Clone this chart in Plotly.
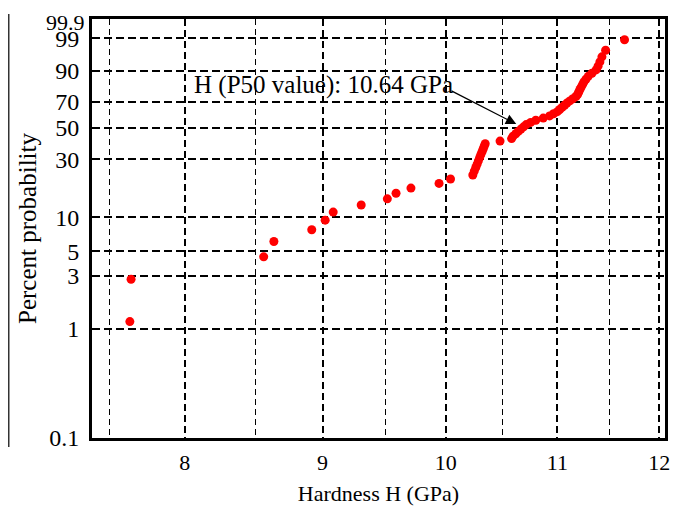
import numpy as np
import plotly.graph_objects as go

# Hardness values (GPa) (sorted)
hardness = [7.633, 7.641, 8.558, 8.633, 8.917, 9.020, 9.082, 9.302, 9.512, 9.583,
            9.706, 9.942, 10.04, 10.233, 10.246, 10.259, 10.271, 10.282, 10.293, 10.303,
            10.314, 10.324, 10.333, 10.342, 10.474, 10.578, 10.591, 10.616, 10.639, 10.663,
            10.687, 10.711, 10.752, 10.799, 10.868, 10.927, 10.964, 11.000, 11.022, 11.045,
            11.068, 11.090, 11.118, 11.147, 11.177, 11.193, 11.203, 11.214, 11.226, 11.239,
            11.252, 11.272, 11.294, 11.330, 11.370, 11.389, 11.407, 11.427, 11.463, 11.650]

# Percent probability of each point
percent = [1.16, 2.81, 4.47, 6.13, 7.78, 9.44, 11.09, 12.75, 14.40, 16.06,
           17.72, 19.37, 21.03, 22.68, 24.34, 25.99, 27.65, 29.30, 30.96, 32.62,
           34.27, 35.93, 37.58, 39.24, 40.89, 42.55, 44.21, 45.86, 47.52, 49.17,
           50.83, 52.48, 54.14, 55.79, 57.45, 59.11, 60.76, 62.42, 64.07, 65.73,
           67.38, 69.04, 70.70, 72.35, 74.01, 75.66, 77.32, 78.97, 80.63, 82.28,
           83.94, 85.60, 87.25, 88.91, 90.56, 92.22, 93.87, 95.53, 97.19, 98.84]

y_ticks = [0.1, 1, 3, 5, 10, 30, 50, 70, 90, 99]
y_tick_labels = ["0.1", "1", "3", "5", "10", "30", "50", "70", "90", "99"]
y_top = 99.9
y_top_label = "99.9"
x_ticks = [8, 9, 10, 11, 12]
x_tick_labels = ["8", "9", "10", "11", "12"]
x_minor = [7.5, 8.5, 9.5, 10.5, 11.5]

annot_text = "H (P50 value): 10.64 GPa"


def weibull(p):
    p = np.asarray(p, dtype=float) / 100.0
    return np.log(-np.log(1.0 - p))


FONT = "Liberation Serif"

fig = go.Figure()
fig.add_trace(go.Scatter(
    x=hardness, y=weibull(percent), mode="markers",
    marker=dict(color="#ff0000", size=9, line=dict(width=0)),
    showlegend=False, hoverinfo="skip"))

# page has an 8px body margin, so the figure is sized to fit the window
W, H = 673, 502
L, R, T, B = 84, 16, 11, 72
PW, PH = W - L - R, H - T - B

fig.update_layout(
    width=W, height=H,
    margin=dict(l=L, r=R, t=T, b=B, pad=0),
    paper_bgcolor="white", plot_bgcolor="white",
    font=dict(family=FONT, color="black", size=21),
    xaxis=dict(
        type="log", range=[np.log10(7.39), np.log10(12.06)],
        tickvals=x_ticks, ticktext=x_tick_labels, ticks="",
        tickfont=dict(size=22, family=FONT),
        showgrid=True, gridcolor="black", gridwidth=2, griddash="7px,4px",
        minor=dict(tickvals=x_minor, showgrid=True, gridcolor="black",
                   gridwidth=1, griddash="6px,4px", ticks=""),
        showline=True, linecolor="black", linewidth=3, mirror=True,
        zeroline=False, ticklabelstandoff=3, automargin=False,
        title=dict(text="Hardness H (GPa)", font=dict(size=22, family=FONT), standoff=12),
    ),
    yaxis=dict(
        range=[float(weibull([0.1])[0]), float(weibull([y_top])[0])],
        tickvals=weibull(y_ticks), ticktext=y_tick_labels, ticks="",
        tickfont=dict(size=24, family=FONT),
        showgrid=True, gridcolor="black", gridwidth=2, griddash="8px,4px",
        showline=True, linecolor="black", linewidth=3, mirror=True,
        zeroline=False, ticklabelstandoff=5, automargin=False,
        title=dict(text="Percent probability", font=dict(size=25, family=FONT), standoff=6),
    ),
)

# top tick label (placed at the top of the frame, kept inside the figure)
fig.add_annotation(
    x=0, y=1, xref="paper", yref="paper", xanchor="right", yanchor="top",
    xshift=-5, yshift=T, text=y_top_label, showarrow=False,
    font=dict(size=22, family=FONT, color="black"))

# text label
fig.add_annotation(
    x=np.log10(8.048), y=0.537, xref="x", yref="y",
    text=annot_text, showarrow=False, xanchor="left", yanchor="middle",
    font=dict(size=25, family=FONT, color="black"))

# arrow pointing to the P50 point
fig.add_annotation(
    x=np.log10(10.62), y=-0.284, xref="x", yref="y",
    ax=np.log10(10.035), ay=0.431, axref="x", ayref="y",
    text="", showarrow=True, arrowhead=2, arrowsize=1.6, arrowwidth=1.3,
    arrowcolor="black", standoff=0)

# partial frame of a neighbouring panel at the left edge
fig.add_shape(type="rect", xref="paper", yref="paper",
              x0=-0.3, x1=(0.5 - L) / PW,
              y0=(T + PH - 438) / PH, y1=(T + PH - 7) / PH,
              line=dict(color="#333333", width=2), layer="above")

fig.write_html("out.html")
